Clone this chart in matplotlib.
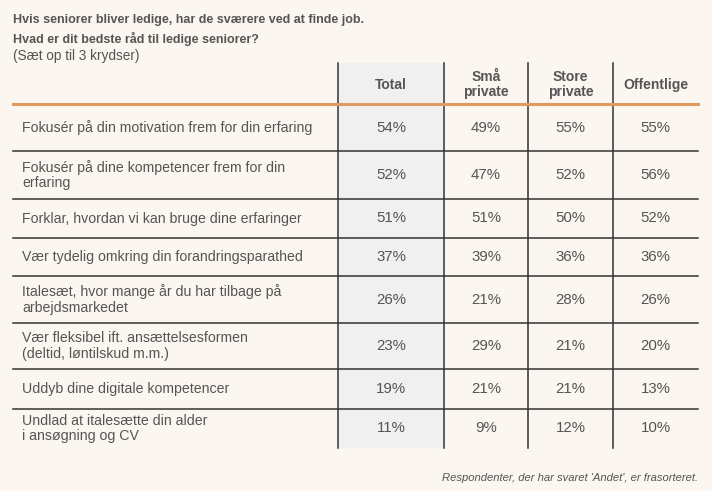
import matplotlib
matplotlib.use('Agg')
import matplotlib.pyplot as plt

# Data
title_lines = ["Hvis seniorer bliver ledige, har de sværere ved at finde job.",
               "Hvad er dit bedste råd til ledige seniorer?"]
subtitle = "(Sæt op til 3 krydser)"
columns = ["Total", "Små\nprivate", "Store\nprivate", "Offentlige"]
answers = [
    "Fokusér på din motivation frem for din erfaring",
    "Fokusér på dine kompetencer frem for din\nerfaring",
    "Forklar, hvordan vi kan bruge dine erfaringer",
    "Vær tydelig omkring din forandringsparathed",
    "Italesæt, hvor mange år du har tilbage på\narbejdsmarkedet",
    "Vær fleksibel ift. ansættelsesformen\n(deltid, løntilskud m.m.)",
    "Uddyb dine digitale kompetencer",
    "Undlad at italesætte din alder\ni ansøgning og CV",
]
total = [54, 52, 51, 37, 26, 23, 19, 11]
smaa_private = [49, 47, 51, 39, 21, 29, 21, 9]
store_private = [55, 52, 50, 36, 28, 21, 21, 12]
offentlige = [55, 56, 52, 36, 26, 20, 13, 10]
footnote = "Respondenter, der har svaret 'Andet', er frasorteret."

bg = '#fcf6f0'
txt = '#555555'
orange = '#e09a60'
line_c = '#333333'

plt.rcParams['font.family'] = ['Liberation Sans', 'DejaVu Sans']

fig = plt.figure(figsize=(7.12, 4.91), dpi=100, facecolor=bg)
ax = fig.add_axes([0, 0, 1, 1])
ax.set_xlim(0, 712)
ax.set_ylim(491, 0)
ax.axis('off')
ax.set_facecolor(bg)

# title
ax.text(13, 20, title_lines[0], fontsize=9, fontweight='bold', color=txt, va='center')
ax.text(13, 39, title_lines[1], fontsize=9, fontweight='bold', color=txt, va='center')
ax.text(13, 56, subtitle, fontsize=9.8, color=txt, va='center')

left, right = 13, 698
vx = [338, 444, 528, 613, right]
top = 63
header_bottom = 104
row_edges = [104, 151, 199, 238, 276, 323, 369, 409, 448]

# grey total column
ax.add_patch(plt.Rectangle((vx[0], top), vx[1] - vx[0], row_edges[-1] - top,
                           facecolor='#f0f0f0', edgecolor='none', zorder=0))

# vertical lines
for x in vx[:4]:
    ax.plot([x, x], [top, row_edges[-1]], color=line_c, lw=1.1, zorder=2)

# horizontal lines
ax.plot([left, right], [header_bottom, header_bottom], color=orange, lw=2.2, zorder=3)
for y in row_edges[1:-1]:
    ax.plot([left, right], [y, y], color=line_c, lw=1.1, zorder=2)

# headers
for i, col in enumerate(columns):
    cx = (vx[i] + vx[i + 1]) / 2
    ax.text(cx, (top + header_bottom) / 2 + 1, col, fontsize=10, fontweight='bold',
            color=txt, ha='center', va='center', linespacing=1.05)

# rows
series = [total, smaa_private, store_private, offentlige]
for r, label in enumerate(answers):
    cy = (row_edges[r] + row_edges[r + 1]) / 2
    ax.text(22, cy, label, fontsize=10.2, color=txt, va='center', linespacing=1.1)
    for i, s in enumerate(series):
        cx = (vx[i] + vx[i + 1]) / 2
        ax.text(cx, cy, f"{s[r]}%", fontsize=10.8, color=txt, ha='center', va='center')

ax.text(right, 478, footnote, fontsize=8.1, style='italic', color=txt, ha='right',
        va='center')

fig.savefig('out.png', dpi=100, facecolor=bg)
